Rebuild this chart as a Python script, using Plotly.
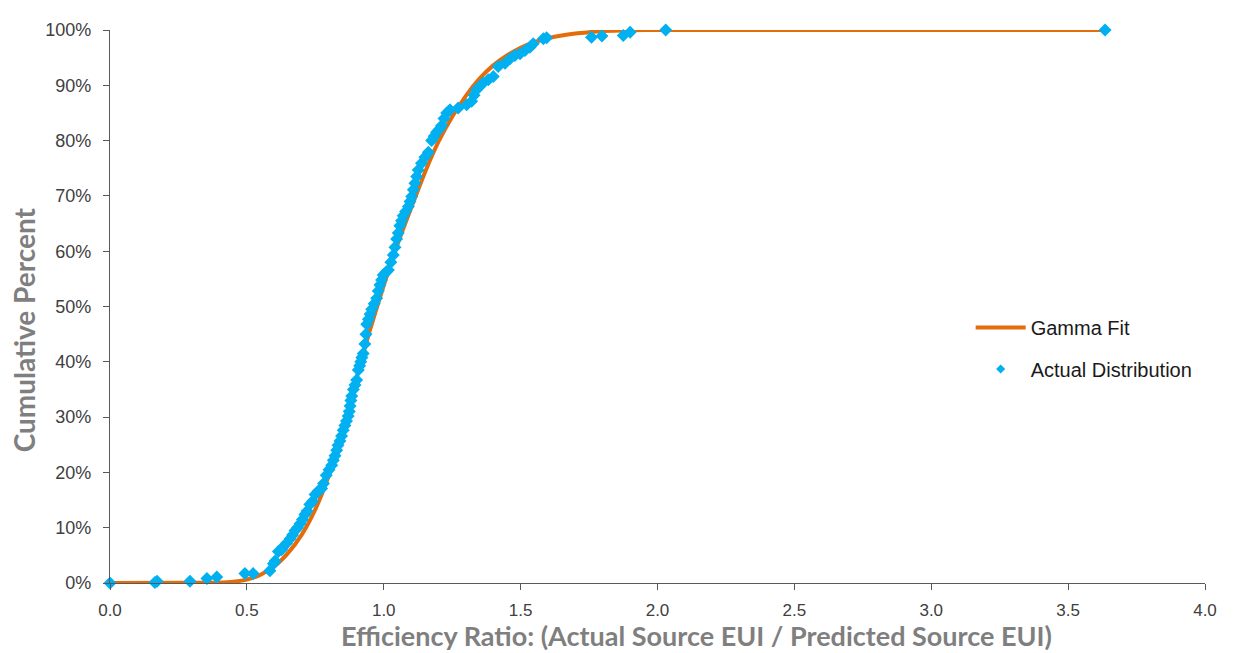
import plotly.graph_objects as go

# Gamma fit curve
fit_x = [0.0, 0.3, 0.4, 0.45, 0.5, 0.55, 0.6, 0.65, 0.7, 0.75, 0.8, 0.85, 0.9, 0.95,
         1.0, 1.05, 1.1, 1.15, 1.2, 1.25, 1.3, 1.35, 1.4, 1.45, 1.5, 1.55, 1.6,
         1.65, 1.7, 1.75, 1.8, 1.9, 2.0, 2.5, 3.0, 3.64]
fit_y = [0.0, 0.0003, 0.001, 0.0025, 0.006, 0.015, 0.030, 0.054, 0.087, 0.133, 0.195,
         0.275, 0.370, 0.458, 0.538, 0.612, 0.678, 0.742, 0.798, 0.843, 0.881, 0.912,
         0.936, 0.954, 0.968, 0.978, 0.985, 0.990, 0.9935, 0.996, 0.998, 0.9995,
         1.0, 1.0, 1.0, 1.0]

# Actual distribution points
act_x = [0.0, 0.164, 0.172, 0.292, 0.354, 0.39, 0.493, 0.523, 0.584, 0.597, 0.603,
         0.615, 0.627, 0.632, 0.645, 0.658, 0.667, 0.676, 0.685, 0.694, 0.703,
         0.712, 0.72, 0.73, 0.74, 0.749, 0.76, 0.773, 0.78, 0.79, 0.80, 0.81,
         0.816, 0.822, 0.828, 0.833, 0.84, 0.846, 0.852, 0.858, 0.864, 0.87,
         0.874, 0.877, 0.88, 0.883, 0.889, 0.895, 0.901, 0.907, 0.912, 0.916,
         0.92, 0.925, 0.931, 0.935, 0.938, 0.944, 0.95, 0.956, 0.965, 0.974,
         0.98, 0.986, 0.992, 0.998, 1.008, 1.017, 1.026, 1.035, 1.041, 1.047,
         1.053, 1.059, 1.065, 1.071, 1.08, 1.09, 1.096, 1.102, 1.108, 1.114,
         1.12, 1.126, 1.138, 1.15, 1.163, 1.175, 1.184, 1.193, 1.202, 1.211,
         1.22, 1.23, 1.242, 1.272, 1.303, 1.321, 1.33, 1.339, 1.35, 1.363,
         1.382, 1.40, 1.418, 1.443, 1.461, 1.479, 1.498, 1.516, 1.534, 1.546,
         1.583, 1.595, 1.759, 1.797, 1.875, 1.90, 2.03, 3.635]
act_y = [0.0, 0.001, 0.003, 0.003, 0.008, 0.011, 0.017, 0.017, 0.022, 0.035, 0.04,
         0.057, 0.06, 0.065, 0.072, 0.08, 0.087, 0.095, 0.10, 0.107, 0.115,
         0.124, 0.13, 0.142, 0.148, 0.16, 0.166, 0.171, 0.18, 0.195, 0.205, 0.213,
         0.222, 0.23, 0.24, 0.249, 0.257, 0.266, 0.276, 0.285, 0.293, 0.302,
         0.31, 0.32, 0.33, 0.338, 0.35, 0.358, 0.367, 0.385, 0.393, 0.40,
         0.408, 0.415, 0.432, 0.45, 0.468, 0.477, 0.486, 0.495, 0.505, 0.515,
         0.528, 0.539, 0.548, 0.557, 0.562, 0.566, 0.58, 0.593, 0.607, 0.622,
         0.633, 0.646, 0.655, 0.664, 0.672, 0.681, 0.69, 0.699, 0.711, 0.723,
         0.735, 0.747, 0.759, 0.77, 0.779, 0.80, 0.808, 0.815, 0.82, 0.827,
         0.84, 0.85, 0.856, 0.859, 0.865, 0.871, 0.882, 0.892, 0.898, 0.904,
         0.91, 0.916, 0.934, 0.94, 0.948, 0.954, 0.957, 0.963, 0.969, 0.975,
         0.984, 0.986, 0.987, 0.989, 0.99, 0.996, 1.0, 1.0]

x_ticks = [0.0, 0.5, 1.0, 1.5, 2.0, 2.5, 3.0, 3.5, 4.0]
y_ticks = [0.0, 0.1, 0.2, 0.3, 0.4, 0.5, 0.6, 0.7, 0.8, 0.9, 1.0]

x_title = "Efficiency Ratio: (Actual Source EUI / Predicted Source EUI)"
y_title = "Cumulative Percent"

fit_col = "#E46C0A"
pt_col = "#00B0F0"
axis_col = "#595959"
title_col = "#7F7F7F"

fig = go.Figure()
fig.add_trace(go.Scatter(
    x=fit_x, y=fit_y, mode="lines", name="Gamma Fit",
    line=dict(color=fit_col, width=4, shape="spline", smoothing=0.5),
    cliponaxis=False, legend="legend", showlegend=True,
))
fig.add_trace(go.Scatter(
    x=act_x, y=act_y, mode="markers", name="Actual Distribution",
    marker=dict(symbol="diamond", color=pt_col, size=10),
    cliponaxis=False, showlegend=False,
))
# legend entry with a smaller marker, like the reference legend
fig.add_trace(go.Scatter(
    x=[None], y=[None], mode="markers", name="Actual Distribution",
    marker=dict(symbol="diamond", color=pt_col, size=7),
    legend="legend2", showlegend=True,
))

leg_font = dict(size=20, color="#1a1a1a", family="Arial, Liberation Sans")
fig.update_layout(
    width=1230, height=645,
    margin=dict(l=102, r=33, t=13, b=70),
    paper_bgcolor="white", plot_bgcolor="white",
    showlegend=True,
    font=dict(family="Arial, Liberation Sans, sans-serif", color="#404040"),
    legend=dict(x=0.786, y=0.462, xanchor="left", yanchor="middle",
                font=leg_font, itemwidth=50, bgcolor="rgba(0,0,0,0)"),
    legend2=dict(x=0.786, y=0.387, xanchor="left", yanchor="middle",
                 font=leg_font, itemwidth=50, bgcolor="rgba(0,0,0,0)"),
    xaxis=dict(
        range=[0, 4], tickvals=x_ticks, tickformat=".1f",
        showgrid=False, zeroline=False,
        showline=True, linecolor=axis_col, linewidth=1.2,
        ticks="outside", ticklen=6, tickcolor=axis_col, ticklabelstandoff=5,
        tickfont=dict(size=17, family="Liberation Sans, Arial", color="#404040"),
    ),
    yaxis=dict(
        range=[0, 1], tickvals=y_ticks, tickformat=".0%",
        showgrid=False, zeroline=False,
        showline=True, linecolor=axis_col, linewidth=1.2,
        ticks="outside", ticklen=6, tickcolor=axis_col, ticklabelstandoff=8,
        tickfont=dict(size=18, family="Arial, Liberation Sans", color="#404040"),
    ),
    annotations=[
        dict(text=x_title, xref="paper", yref="paper", x=0.536, y=-0.0943,
             xanchor="center", yanchor="middle", showarrow=False, borderpad=0,
             font=dict(size=27, family="Lato, Open Sans, sans-serif", color=title_col, weight="bold")),
        dict(text=y_title, xref="paper", yref="paper", x=-0.0785, y=0.457,
             xanchor="center", yanchor="middle", showarrow=False, textangle=-90,
             borderpad=0,
             font=dict(size=28, family="Lato, Open Sans, sans-serif", color=title_col, weight="bold")),
    ],
)

fig.write_html("out.html")
